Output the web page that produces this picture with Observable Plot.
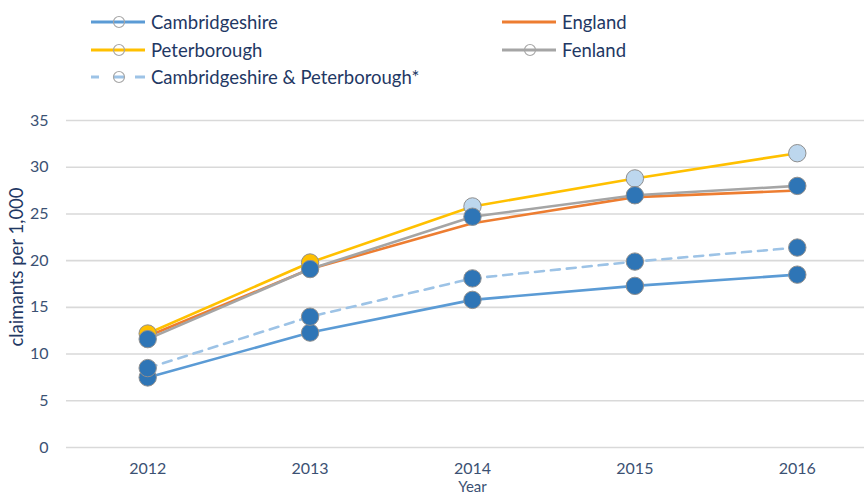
<!DOCTYPE html>
<html>
<head>
<meta charset="utf-8">
<script src="https://cdn.jsdelivr.net/npm/d3@7"></script>
<script src="https://cdn.jsdelivr.net/npm/@observablehq/plot@0.6"></script>
<style>
  html, body { margin: 0; padding: 0; background: #fff; }
  #wrap { position: relative; width: 864px; height: 493px; overflow: hidden; font-family: Lato, "Liberation Sans", sans-serif; }
  #legend { position: relative; width: 864px; height: 95px; }
  .item { position: absolute; height: 22px; display: flex; align-items: center; }
  .item svg { display: block; }
  .item span { font-size: 18.5px; color: #1F3864; margin-left: 6px; white-space: nowrap; }
  #chart svg { display: block; }
</style>
</head>
<body>
<div id="wrap">
  <div id="legend"></div>
  <div id="chart"></div>
</div>
<script>
// ---- data ----
const years = [2012, 2013, 2014, 2015, 2016];
const cambridgeshire = [7.5, 12.3, 15.8, 17.3, 18.5];
const england = [11.9, 19.1, 24.0, 26.8, 27.5];
const peterborough = [12.2, 19.8, 25.8, 28.8, 31.5];
const fenland = [11.6, 19.1, 24.7, 27.0, 28.0];
const cambsPeterborough = [8.5, 14.0, 18.1, 19.9, 21.4];
const yTicks = [0, 5, 10, 15, 20, 25, 30, 35];
const seriesNames = ["Cambridgeshire", "England", "Peterborough", "Fenland", "Cambridgeshire & Peterborough*"];

const toRows = (vals) => years.map((year, i) => ({year, value: vals[i]}));

// ---- styles ----
const C = {
  cambs: "#5B9BD5",
  england: "#ED7D31",
  pboro: "#FFC000",
  fen: "#A5A5A5",
  cp: "#9DC3E6",
  markerDark: "#2E75B6",
  markerLight: "#BDD7EE",
  markerStroke: "#8f8f8f"
};

// ---- legend ----
const legend = document.getElementById("legend");
const legendItems = [
  {name: seriesNames[0], color: C.cambs, marker: true, dash: false, left: 91, cy: 22},
  {name: seriesNames[1], color: C.england, marker: false, dash: false, left: 502, cy: 22},
  {name: seriesNames[2], color: C.pboro, marker: true, dash: false, left: 91, cy: 50},
  {name: seriesNames[3], color: C.fen, marker: true, dash: false, left: 502, cy: 50},
  {name: seriesNames[4], color: C.cp, marker: true, dash: true, left: 91, cy: 77}
];
for (const it of legendItems) {
  const div = document.createElement("div");
  div.className = "item";
  div.style.left = it.left + "px";
  div.style.top = (it.cy - 11) + "px";
  const w = 54;
  let line;
  if (it.dash) {
    line = `<line x1="0" y1="11" x2="8" y2="11" stroke="${it.color}" stroke-width="3"/>` +
           `<line x1="22" y1="11" x2="33" y2="11" stroke="${it.color}" stroke-width="3"/>` +
           `<line x1="44" y1="11" x2="54" y2="11" stroke="${it.color}" stroke-width="3"/>`;
  } else {
    line = `<line x1="0" y1="11" x2="${w}" y2="11" stroke="${it.color}" stroke-width="3"/>`;
  }
  const marker = it.marker ? `<circle cx="28" cy="11" r="5.5" fill="none" stroke="#a6a6a6" stroke-width="1.2"/>` : "";
  div.innerHTML = `<svg width="${w}" height="22">${line}${marker}</svg><span>${it.name}</span>`;
  legend.appendChild(div);
}

// ---- chart ----
const lineW = 2.6;
const dotR = 8.7;
const dotOpts = (fill) => ({x: "year", y: "value", r: dotR, fill, stroke: C.markerStroke, strokeWidth: 1});

const plot = Plot.plot({
  width: 864,
  height: 398,
  marginTop: 25,
  marginBottom: 46,
  marginLeft: 66,
  marginRight: 0,
  x: {domain: [2011.5, 2016.414], ticks: years, tickFormat: "d"},
  y: {domain: [0, 35], ticks: yTicks},
  style: {fontFamily: "Lato, 'Liberation Sans', sans-serif", fontSize: "16px", color: "#3B5173", background: "#fff"},
  marks: [
    Plot.gridY(yTicks, {stroke: "#d9d9d9", strokeOpacity: 1, strokeWidth: 1.6}),
    Plot.axisY(yTicks, {tickSize: 0, tickPadding: 18, label: null, fontSize: 16}),
    Plot.axisX(years, {tickSize: 0, tickPadding: 15, tickFormat: "d", label: null, fontSize: 16}),
    Plot.text(["claimants per 1,000"], {frameAnchor: "left", textAnchor: "middle", rotate: -90, dx: -49, dy: -17, fontSize: 18.5, fill: "#1F3864"}),
    Plot.text(["Year"], {x: () => 2014, frameAnchor: "bottom", dy: 44, fontSize: 15, fill: "#3B5173"}),
    // Cambridgeshire
    Plot.line(toRows(cambridgeshire), {x: "year", y: "value", stroke: C.cambs, strokeWidth: lineW}),
    Plot.dot(toRows(cambridgeshire), dotOpts(C.markerDark)),
    // England
    Plot.line(toRows(england), {x: "year", y: "value", stroke: C.england, strokeWidth: lineW}),
    // Peterborough
    Plot.line(toRows(peterborough), {x: "year", y: "value", stroke: C.pboro, strokeWidth: lineW}),
    Plot.dot(toRows(peterborough), dotOpts(d => d.year >= 2014 ? C.markerLight : C.pboro)),
    // Fenland
    Plot.line(toRows(fenland), {x: "year", y: "value", stroke: C.fen, strokeWidth: lineW}),
    Plot.dot(toRows(fenland), dotOpts(C.markerDark)),
    // Cambridgeshire & Peterborough
    Plot.line(toRows(cambsPeterborough), {x: "year", y: "value", stroke: C.cp, strokeWidth: lineW, strokeDasharray: "9,7"}),
    Plot.dot(toRows(cambsPeterborough), dotOpts(C.markerDark))
  ]
});
document.getElementById("chart").appendChild(plot);
</script>
</body>
</html>
